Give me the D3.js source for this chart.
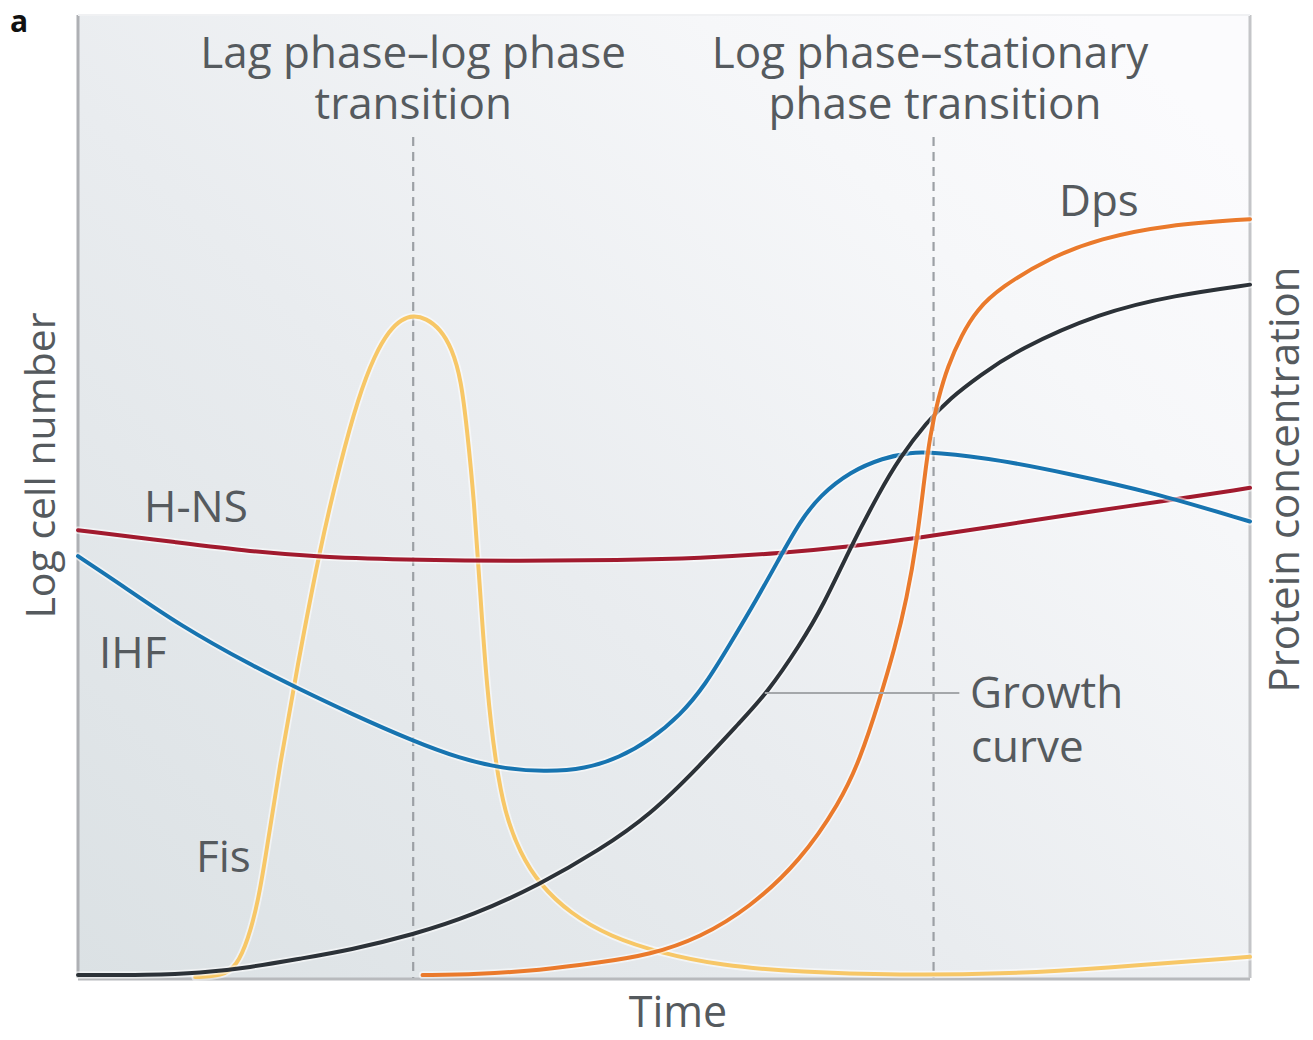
<!DOCTYPE html>
<html>
<head>
<meta charset="utf-8">
<script src="https://cdn.jsdelivr.net/npm/d3@7"></script>
<style>
  html, body { margin: 0; padding: 0; background: #ffffff; }
  svg { display: block; }
  text { font-family: "Open Sans", "Noto Sans", sans-serif; fill: #555a5e; }
</style>
</head>
<body>
<svg id="chart" width="1313" height="1040"></svg>
<script>
// Time and level values (arbitrary units, 0–100 on both axes)
const growthCurve = [
  [0, 0.3], [6.1, 0.3], [10.4, 0.5], [14.7, 1.1], [18.9, 2.0], [23.2, 2.9],
  [28.6, 4.5], [33.7, 6.5], [39.4, 9.7], [44.5, 13.3], [48.8, 16.9],
  [53.1, 22.1], [56.5, 26.6], [58.8, 29.6], [61.6, 34.6], [63.6, 38.7],
  [65.9, 44.7], [68.4, 50.5], [70.1, 54.0], [72.4, 57.7], [74.4, 60.2],
  [77.0, 62.6], [80.1, 65.2], [87.2, 69.1], [93.6, 70.9], [100, 72.0]
];
const dps = [
  [29.4, 0.3], [34.1, 0.4], [39.4, 0.8], [44.5, 1.6], [48.8, 2.4], [53.1, 4.2],
  [57.3, 7.3], [61.6, 12.1], [65.0, 18.2], [66.7, 22.6], [68.4, 28.9],
  [69.7, 34.3], [70.7, 39.3], [71.6, 45.5], [72.2, 51.7], [72.7, 56.4],
  [73.4, 60.2], [74.2, 63.5], [75.4, 66.8], [76.7, 69.4], [78.7, 71.7],
  [82.9, 74.8], [87.2, 76.8], [92.9, 78.2], [100, 78.8]
];
const ihf = [
  [0, 43.8], [3.6, 40.9], [8.7, 36.6], [14.9, 32.4], [18.9, 30.0], [23.2, 27.5],
  [28.6, 24.6], [32.6, 22.8], [36.0, 21.8], [39.8, 21.4], [43.3, 21.7],
  [46.2, 22.9], [48.8, 24.7], [51.4, 27.3], [53.5, 30.4], [55.6, 34.6],
  [57.9, 39.3], [59.9, 43.7], [61.6, 47.4], [63.3, 50.1], [65.9, 52.6],
  [68.7, 54.0], [71.0, 54.6], [73.1, 54.6], [78.7, 53.8], [84.4, 52.4],
  [91.5, 50.5], [100, 47.4]
];
const hns = [
  [0, 46.5], [8.7, 45.2], [14.7, 44.3], [20.6, 43.7], [29.2, 43.4], [37.7, 43.3],
  [46.2, 43.4], [53.1, 43.6], [59.9, 44.1], [65.9, 44.8], [71.8, 45.7],
  [78.7, 47.0], [87.2, 48.6], [91.5, 49.3], [100, 50.9]
];
const fis = [
  [10.0, 0.1], [12.3, 0.2], [13.5, 1.2], [14.5, 3.9], [15.4, 8.1], [16.1, 13.3],
  [17.2, 22.0], [18.7, 32.2], [20.6, 44.4], [22.4, 53.6], [23.9, 60.2],
  [25.3, 64.7], [26.6, 67.3], [27.6, 68.4], [28.6, 68.8], [29.7, 68.5],
  [30.9, 67.4], [31.9, 65.4], [32.7, 62.1], [33.2, 56.9], [33.8, 49.6],
  [34.3, 40.2], [34.9, 29.9], [35.6, 22.6], [36.4, 17.2], [37.7, 13.0],
  [39.4, 9.7], [42.0, 6.7], [45.4, 4.3], [49.7, 2.6], [54.8, 1.3],
  [61.6, 0.6], [70.1, 0.3], [78.7, 0.4], [87.2, 1.0], [100, 2.2]
];

// Phase transitions (time) and their labels
const transitions = [28.6, 73.0];
const transitionLabels = [
  ["Lag phase–log phase", "transition"],
  ["Log phase–stationary", "phase transition"]
];

const seriesList = [
  { name: "Fis", data: fis, color: "#f7c767" },
  { name: "H-NS", data: hns, color: "#a11a2e" },
  { name: "IHF", data: ihf, color: "#1774b0" },
  { name: "Growth curve", data: growthCurve, color: "#2c3238" },
  { name: "Dps", data: dps, color: "#ea7a2c" }
];

const svg = d3.select("#chart");
const margin = { left: 78, right: 63, top: 15, bottom: 62 };
const W = 1313, H = 1040;
const x = d3.scaleLinear().domain([0, 100]).range([margin.left, W - margin.right]);
const y = d3.scaleLinear().domain([0, 100]).range([H - margin.bottom, margin.top]);

// Background shading
const defs = svg.append("defs");
const grad = defs.append("linearGradient").attr("id", "bg")
  .attr("x1", 0).attr("y1", 1).attr("x2", 1).attr("y2", 0.15);
grad.append("stop").attr("offset", 0).attr("stop-color", "#dbe1e4");
grad.append("stop").attr("offset", 0.45).attr("stop-color", "#e9ecef");
grad.append("stop").attr("offset", 0.8).attr("stop-color", "#f6f7f9");
grad.append("stop").attr("offset", 1).attr("stop-color", "#fbfbfd");

svg.append("rect")
  .attr("x", x(0)).attr("y", y(100))
  .attr("width", x(100) - x(0)).attr("height", y(0) - y(100))
  .attr("fill", "url(#bg)");

// Frame
svg.append("line").attr("x1", x(0)).attr("x2", x(0)).attr("y1", y(100)).attr("y2", y(0))
  .attr("stroke", "#aeb0b4").attr("stroke-width", 3);
svg.append("line").attr("x1", x(0)).attr("x2", x(100)).attr("y1", y(0) + 1).attr("y2", y(0) + 1)
  .attr("stroke", "#b8babd").attr("stroke-width", 3);
svg.append("line").attr("x1", x(100)).attr("x2", x(100)).attr("y1", y(100)).attr("y2", y(0))
  .attr("stroke", "#c4c5c8").attr("stroke-width", 3);
svg.append("line").attr("x1", x(0)).attr("x2", x(100)).attr("y1", y(100)).attr("y2", y(100))
  .attr("stroke", "#f0f1f3").attr("stroke-width", 2);

// Transition markers
transitions.forEach(t => {
  svg.append("line")
    .attr("x1", x(t)).attr("x2", x(t))
    .attr("y1", 137).attr("y2", y(0))
    .attr("stroke", "#9ca0a5").attr("stroke-width", 2.2)
    .attr("stroke-dasharray", "9,6");
});
const titleCenters = [x(transitions[0]), 930];
transitionLabels.forEach((lines, i) => {
  const t = svg.append("text")
    .attr("text-anchor", "middle")
    .attr("font-size", 44);
  lines.forEach((s, j) => {
    t.append("tspan")
      .attr("x", titleCenters[i] + (i === 1 && j === 1 ? 5 : 0))
      .attr("y", 68 + j * 51)
      .text(s);
  });
});

// Curves
const line = d3.line()
  .x(d => x(d[0])).y(d => y(d[1]))
  .curve(d3.curveBasis);

const g = svg.append("g");
seriesList.forEach(s => {
  g.append("path").datum(s.data)
    .attr("d", line)
    .attr("fill", "none")
    .attr("stroke", "#ffffff").attr("stroke-opacity", 0.55)
    .attr("stroke-width", 7.5)
    .attr("stroke-linecap", "round");
  g.append("path").datum(s.data)
    .attr("d", line)
    .attr("fill", "none")
    .attr("stroke", s.color)
    .attr("stroke-width", 4)
    .attr("stroke-linecap", "round");
});

// Growth curve pointer
const pointerY = y(29.6);
svg.append("line")
  .attr("x1", x(58.6)).attr("x2", x(75.2))
  .attr("y1", pointerY).attr("y2", pointerY)
  .attr("stroke", "#a4a7aa").attr("stroke-width", 2);

// Series labels
const labels = [
  { t: ["H-NS"], px: 144, py: 522 },
  { t: ["IHF"], px: 99, py: 668 },
  { t: ["Fis"], px: 196, py: 872 },
  { t: ["Dps"], px: 1059, py: 216 },
  { t: ["Growth", "curve"], px: 970, py: 708 }
];
labels.forEach(l => {
  const t = svg.append("text").attr("font-size", 44);
  l.t.forEach((s, j) => {
    t.append("tspan").attr("x", l.px + j).attr("y", l.py + j * 54).text(s);
  });
});

// Axis titles
svg.append("text")
  .attr("transform", `translate(55, ${(y(0) + y(100)) / 2 - 31}) rotate(-90)`)
  .attr("text-anchor", "middle").attr("font-size", 41)
  .text("Log cell number");
svg.append("text")
  .attr("transform", `translate(1299, ${(y(0) + y(100)) / 2 - 17}) rotate(-90)`)
  .attr("text-anchor", "middle").attr("font-size", 42)
  .text("Protein concentration");
svg.append("text")
  .attr("x", 678).attr("y", 1027)
  .attr("text-anchor", "middle").attr("font-size", 43)
  .text("Time");

// Panel letter
svg.append("text")
  .attr("x", 10).attr("y", 32)
  .attr("font-family", "Liberation Sans, Arial, sans-serif")
  .attr("font-weight", "bold").attr("font-size", 30)
  .style("fill", "#111")
  .text("a");
</script>
</body>
</html>
